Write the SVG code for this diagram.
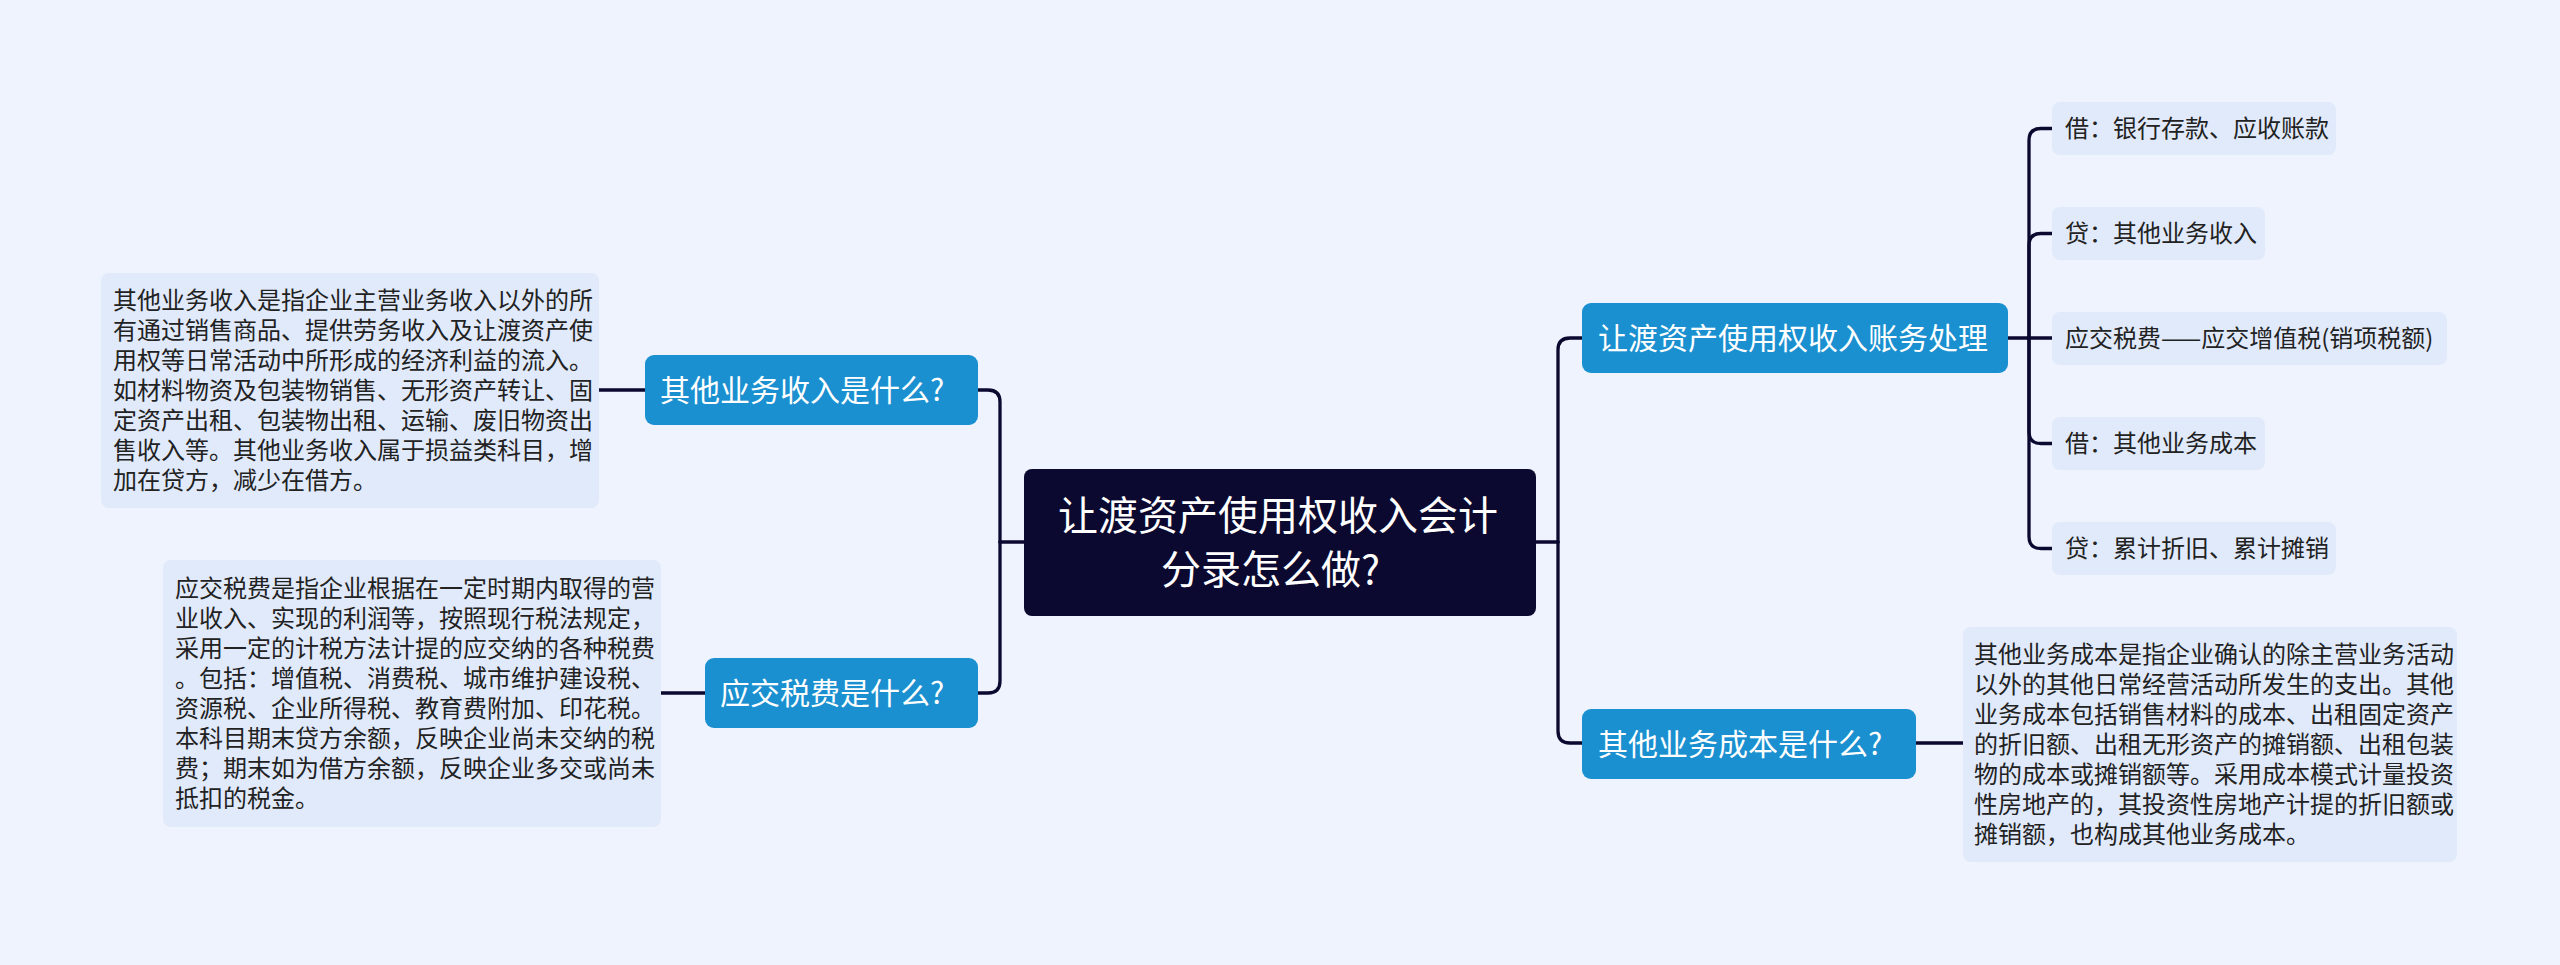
<svg xmlns="http://www.w3.org/2000/svg" width="2560" height="965" viewBox="0 0 2560 965">
<style>
.bg{fill:#eef3fd}
.root{fill:#0b0930}
.main{fill:#1a90d0}
.leaf{fill:#e1eafb}
.t{font-family:"Noto Sans CJK SC","Noto Sans",sans-serif}
.rt{font-size:40px;fill:#ffffff}
.mt{font-size:30px;fill:#ffffff}
.lt{font-size:24px;fill:#222222}
.c{fill:none;stroke:#0b0930;stroke-width:3.3;stroke-linecap:round;stroke-linejoin:round}
</style>
<rect class="bg" x="0" y="0" width="2560" height="965"/>
<g id="connectors">
<path class="c" d="M1024,542 H1000"/>
<path class="c" d="M1000,542 V402 Q1000,390 988,390 H978"/>
<path class="c" d="M1000,542 V681 Q1000,693 988,693 H978"/>
<path class="c" d="M645,390 H599"/>
<path class="c" d="M705,693 H661"/>
<path class="c" d="M1536,542 H1558"/>
<path class="c" d="M1558,542 V350 Q1558,338 1570,338 H1582"/>
<path class="c" d="M1558,542 V731 Q1558,743 1570,743 H1582"/>
<path class="c" d="M1916,743 H1963"/>
<path class="c" d="M2008,338 H2052"/>
<path class="c" d="M2029,338 V140.5 Q2029,128.5 2041,128.5 H2052"/>
<path class="c" d="M2029,338 V245.5 Q2029,233.5 2041,233.5 H2052"/>
<path class="c" d="M2029,338 V431.5 Q2029,443.5 2041,443.5 H2052"/>
<path class="c" d="M2029,338 V536.5 Q2029,548.5 2041,548.5 H2052"/>
</g>
<g id="root">
<rect class="root" x="1024" y="469" width="512" height="147" rx="8"/>
<text class="t rt" x="1058" y="530">让渡资产使用权收入会计</text>
<text class="t rt" x="1161" y="584">分录怎么做?</text>
</g>
<g id="n-other-income">
<rect class="main" x="645" y="355" width="333" height="70" rx="9"/>
<text class="t mt" x="660" y="401">其他业务收入是什么?</text>
</g>
<g id="n-tax">
<rect class="main" x="705" y="658" width="273" height="70" rx="9"/>
<text class="t mt" x="720" y="704">应交税费是什么?</text>
</g>
<g id="n-entry">
<rect class="main" x="1582" y="303" width="426" height="70" rx="9"/>
<text class="t mt" x="1598" y="349">让渡资产使用权收入账务处理</text>
</g>
<g id="n-other-cost">
<rect class="main" x="1582" y="709" width="334" height="70" rx="9"/>
<text class="t mt" x="1598" y="755">其他业务成本是什么?</text>
</g>
<g id="d-other-income">
<rect class="leaf" x="101" y="273" width="498" height="235" rx="8"/>
<text class="t lt">
<tspan x="113" y="309">其他业务收入是指企业主营业务收入以外的所</tspan>
<tspan x="113" y="339">有通过销售商品、提供劳务收入及让渡资产使</tspan>
<tspan x="113" y="369">用权等日常活动中所形成的经济利益的流入。</tspan>
<tspan x="113" y="399">如材料物资及包装物销售、无形资产转让、固</tspan>
<tspan x="113" y="429">定资产出租、包装物出租、运输、废旧物资出</tspan>
<tspan x="113" y="459">售收入等。其他业务收入属于损益类科目，增</tspan>
<tspan x="113" y="489">加在贷方，减少在借方。</tspan>
</text>
</g>
<g id="d-tax">
<rect class="leaf" x="163" y="560" width="498" height="267" rx="8"/>
<text class="t lt">
<tspan x="175" y="597">应交税费是指企业根据在一定时期内取得的营</tspan>
<tspan x="175" y="627">业收入、实现的利润等，按照现行税法规定，</tspan>
<tspan x="175" y="657">采用一定的计税方法计提的应交纳的各种税费</tspan>
<tspan x="175" y="687">。包括：增值税、消费税、城市维护建设税、</tspan>
<tspan x="175" y="717">资源税、企业所得税、教育费附加、印花税。</tspan>
<tspan x="175" y="747">本科目期末贷方余额，反映企业尚未交纳的税</tspan>
<tspan x="175" y="777">费；期末如为借方余额，反映企业多交或尚未</tspan>
<tspan x="175" y="807">抵扣的税金。</tspan>
</text>
</g>
<g id="d-other-cost">
<rect class="leaf" x="1963" y="627" width="494" height="235" rx="8"/>
<text class="t lt">
<tspan x="1974" y="663">其他业务成本是指企业确认的除主营业务活动</tspan>
<tspan x="1974" y="693">以外的其他日常经营活动所发生的支出。其他</tspan>
<tspan x="1974" y="723">业务成本包括销售材料的成本、出租固定资产</tspan>
<tspan x="1974" y="753">的折旧额、出租无形资产的摊销额、出租包装</tspan>
<tspan x="1974" y="783">物的成本或摊销额等。采用成本模式计量投资</tspan>
<tspan x="1974" y="813">性房地产的，其投资性房地产计提的折旧额或</tspan>
<tspan x="1974" y="843">摊销额，也构成其他业务成本。</tspan>
</text>
</g>
<g id="e1">
<rect class="leaf" x="2052" y="102" width="284" height="53" rx="8"/>
<text class="t lt" x="2065" y="137">借：银行存款、应收账款</text>
</g>
<g id="e2">
<rect class="leaf" x="2052" y="207" width="213" height="53" rx="8"/>
<text class="t lt" x="2065" y="242">贷：其他业务收入</text>
</g>
<g id="e3">
<rect class="leaf" x="2052" y="312" width="395" height="53" rx="8"/>
<text class="t lt" x="2065" y="347">应交税费——应交增值税(销项税额)</text>
</g>
<g id="e4">
<rect class="leaf" x="2052" y="417" width="213" height="53" rx="8"/>
<text class="t lt" x="2065" y="452">借：其他业务成本</text>
</g>
<g id="e5">
<rect class="leaf" x="2052" y="522" width="284" height="53" rx="8"/>
<text class="t lt" x="2065" y="557">贷：累计折旧、累计摊销</text>
</g>
</svg>
